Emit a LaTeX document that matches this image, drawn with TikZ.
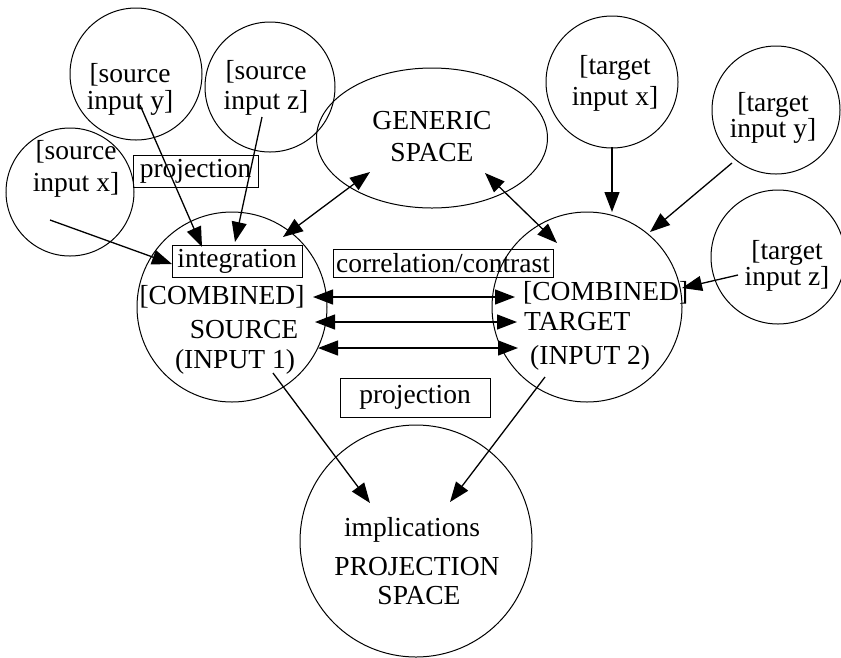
\documentclass[tikz,border=0pt]{standalone}
\usepackage{fontspec}
\setmainfont{Liberation Serif}
\usetikzlibrary{arrows.meta,shapes.geometric}
\begin{document}
\begin{tikzpicture}[x=1pt,y=-1pt,
  ring/.style={draw, circle, inner sep=0pt, line width=1pt},
  lbl/.style={inner sep=0pt, align=center, font=\fontsize{27.5}{#1}\selectfont},
  lbl/.default=30,
  tag/.style={draw, line width=1pt, inner sep=0pt, font=\fontsize{27.5}{30}\selectfont},
  conn/.style={line width=1.3pt, -{Triangle[length=20pt,width=15pt]}},
  both/.style={line width=1.3pt, {Triangle[length=20pt,width=15pt]}-{Triangle[length=20pt,width=15pt]}}
]
\useasboundingbox (0,0) rectangle (841,657);

% circles and ellipse
\node[ring, minimum size=132pt] (sy) at (136,74) {};
\node[ring, minimum size=130pt] (sz) at (270,87) {};
\node[ring, minimum size=128pt] (sx) at (70,192) {};
\node[draw, ellipse, inner sep=0pt, line width=1pt, minimum width=231pt, minimum height=140pt] (gen) at (432,138) {};
\node[ring, minimum size=132pt] (tx) at (612,82) {};
\node[ring, minimum size=128pt] (ty) at (776,110) {};
\node[ring, minimum size=134pt] (tz) at (778,257) {};
\node[ring, minimum size=190pt] (cs) at (232,307) {};
\node[ring, minimum size=190pt] (ct) at (587,307) {};
\node[ring, minimum size=232pt] (ps) at (416,541) {};

% texts in circles
\node[lbl=27] (syt) at (130,89) {[source\\input y]};
\node[lbl=30] (szt) at (266,88) {[source\\input z]};
\node[lbl=32] (sxt) at (76,169) {[source\\input x]};
\node[lbl=32] (gent) at (432,137) {GENERIC\\SPACE};
\node[lbl=31] (txt) at (615,83) {[target\\input x]};
\node[lbl=24] (tyt) at (773,118) {[target\\input y]};
\node[lbl=25] (tzt) at (787,266) {[target\\input z]};

\node[lbl] (cs1) at (222,297) {[COMBINED]};
\node[lbl] (cs2) at (244,330) {SOURCE};
\node[lbl] (cs3) at (235,362) {(INPUT 1)};

\node[lbl, anchor=west] (ct1) at (523,293) {[COMBINED]};
\node[lbl, anchor=west] (ct2) at (524,322) {TARGET};
\node[lbl, anchor=west] (ct3) at (530,358) {(INPUT 2)};

\node[lbl] (ps1) at (412,530) {implications};
\node[lbl] (ps2) at (417,567) {PROJECTION};
\node[lbl] (ps3) at (419,596) {SPACE};

% boxed labels
\node[tag, minimum width=125pt, minimum height=32pt] (bproj1) at (195.5,171) {projection};
\node[tag, minimum width=130pt, minimum height=32pt] (binteg) at (237,261) {integration};
\node[tag, minimum width=220pt, minimum height=28pt] (bcorr) at (443,263) {correlation/contrast};
\node[tag, minimum width=150pt, minimum height=39pt] (bproj2) at (415,397.5) {projection};

% connector end points
\coordinate (sxa) at (50,220);   \coordinate (sxb) at (172,264);
\coordinate (sya) at (140,105);  \coordinate (syb) at (202,247);
\coordinate (sza) at (262,117);  \coordinate (szb) at (235,242);
\coordinate (gca) at (283,237);  \coordinate (gcb) at (370,172);
\coordinate (gta) at (485,173);  \coordinate (gtb) at (557,243);
\coordinate (txa) at (612,147);  \coordinate (txb) at (612,212);
\coordinate (tya) at (732,163);  \coordinate (tyb) at (650,232);
\coordinate (tza) at (738,275);  \coordinate (tzb) at (682,288);
\coordinate (h1a) at (313,297);  \coordinate (h1b) at (515,297);
\coordinate (h2a) at (315,322);  \coordinate (h2b) at (517,322);
\coordinate (h3a) at (318,348);  \coordinate (h3b) at (518,348);
\coordinate (cpa) at (273,373);  \coordinate (cpb) at (370,503);
\coordinate (tpa) at (545,377);  \coordinate (tpb) at (450,502);

% connectors
\draw[conn] (sxa) -- (sxb);
\draw[conn] (sya) -- (syb);
\draw[conn] (sza) -- (szb);
\draw[both] (gca) -- (gcb);
\draw[both] (gta) -- (gtb);
\draw[conn] (txa) -- (txb);
\draw[conn] (tya) -- (tyb);
\draw[conn] (tza) -- (tzb);
\draw[both] (h1a) -- (h1b);
\draw[both] (h2a) -- (h2b);
\draw[both] (h3a) -- (h3b);
\draw[conn] (cpa) -- (cpb);
\draw[conn] (tpa) -- (tpb);
\end{tikzpicture}
\end{document}
